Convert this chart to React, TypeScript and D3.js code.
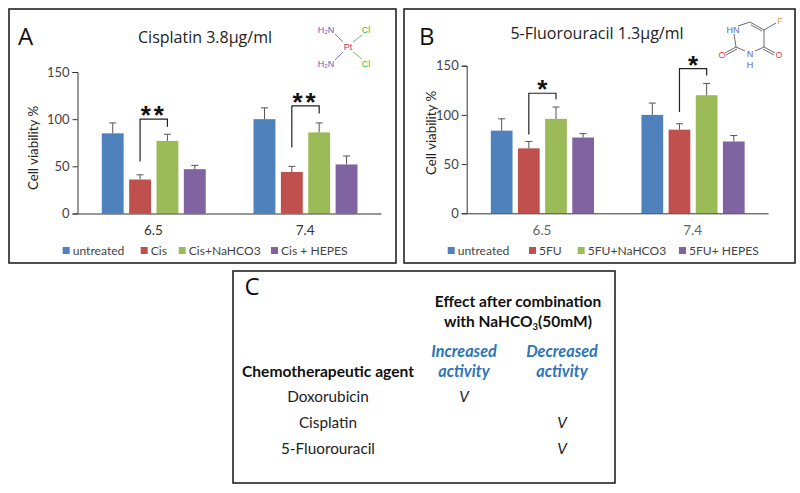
import React, { useEffect, useRef } from "react";
import * as d3 from "d3";

const groups = ["6.5", "7.4"];
const yTicks = [0, 50, 100, 150];
const colors = ["#4f81bd", "#c0504d", "#9bbb59", "#8064a2"];

const seriesA = ["untreated", "Cis", "Cis+NaHCO3", "Cis + HEPES"];
const valuesA = [
  [85, 36, 77, 47],
  [100, 44, 86, 52],
];
const errorTopsA = [
  [96, 41, 84, 51],
  [112, 50, 96, 61],
];

const seriesB = ["untreated", "5FU", "5FU+NaHCO3", "5FU+ HEPES"];
const valuesB = [
  [84, 66, 96, 77],
  [100, 85, 120, 73],
];
const errorTopsB = [
  [96, 73, 108, 81],
  [112, 91, 132, 79],
];

// bracket between bars 2 and 3: left foot, top, right foot (in % units)
const bracketsA = [
  { from: 55, top: 100, to: 92, stars: "**" },
  { from: 70, top: 114, to: 106, stars: "**" },
];
const bracketsB = [
  { from: 80, top: 122, to: 116, stars: "*" },
  { from: 103, top: 147, to: 140, stars: "*" },
];

const agents = ["Doxorubicin", "Cisplatin", "5-Fluorouracil"];
const effects = ["increased", "decreased", "decreased"];

const sansFont = "'Open Sans', sans-serif";
const chartFont = "Lato, sans-serif";
const axisColor = "#333";

function drawPanel(root, o) {
  const g = root.append("g");

  g.append("rect")
    .attr("x", o.box[0])
    .attr("y", o.box[1])
    .attr("width", o.box[2])
    .attr("height", o.box[3])
    .attr("fill", "white")
    .attr("stroke", "#222")
    .attr("stroke-width", 1.6);

  g.append("text")
    .attr("x", o.letterX)
    .attr("y", 45)
    .attr("font-family", sansFont)
    .attr("font-size", 24)
    .attr("fill", "#111")
    .text(o.letter);

  g.append("text")
    .attr("x", o.titleX)
    .attr("y", o.titleY)
    .attr("text-anchor", "middle")
    .attr("font-family", sansFont)
    .attr("font-size", 16)
    .attr("fill", "#222")
    .text(o.title);

  const x0 = d3.scaleBand().domain(groups).range([o.left, o.right]);
  const x1 = d3
    .scaleBand()
    .domain(d3.range(4).map(String))
    .range([x0.bandwidth() * 0.16, x0.bandwidth() * 0.845])
    .paddingInner(0.2);
  const y = d3.scaleLinear().domain([0, 150]).range([o.bottom, o.top]);

  groups.forEach((group, i) => {
    const row = g.append("g").attr("transform", `translate(${x0(group)},0)`);
    o.values[i].forEach((v, j) => {
      const bx = x1(String(j));
      const cx = bx + x1.bandwidth() / 2;
      row
        .append("rect")
        .attr("x", bx)
        .attr("y", y(v))
        .attr("width", x1.bandwidth())
        .attr("height", y(0) - y(v))
        .attr("fill", colors[j]);
      row
        .append("path")
        .attr(
          "d",
          `M${cx},${y(v)}V${y(o.errors[i][j])}M${cx - 3.5},${y(o.errors[i][j])}H${cx + 3.5}`
        )
        .attr("fill", "none")
        .attr("stroke", "#555")
        .attr("stroke-width", 1);
    });

    const b = o.brackets[i];
    const xa = x1("1") + x1.bandwidth() / 2;
    const xb = x1("2") + x1.bandwidth() / 2;
    row
      .append("path")
      .attr("d", `M${xa},${y(b.from)}V${y(b.top)}H${xb}V${y(b.to)}`)
      .attr("fill", "none")
      .attr("stroke", "#222")
      .attr("stroke-width", 1.2);
    row
      .append("text")
      .attr("x", (xa + xb) / 2)
      .attr("y", y(b.top) + 5)
      .attr("text-anchor", "middle")
      .attr("font-family", "'Liberation Sans', sans-serif")
      .attr("font-weight", "bold")
      .attr("font-size", 26)
      .attr("letter-spacing", b.stars.length > 1 ? 3 : 0)
      .attr("fill", "#111")
      .text(b.stars);
  });

  const yAxis = g
    .append("g")
    .attr("transform", `translate(${o.left},0)`)
    .call(d3.axisLeft(y).tickValues(yTicks).tickSize(5).tickPadding(3));
  yAxis.selectAll("path,line").attr("stroke", axisColor);
  yAxis
    .selectAll("text")
    .attr("font-family", chartFont)
    .attr("font-size", 13)
    .attr("fill", "#444");

  const xAxis = g
    .append("g")
    .attr("transform", `translate(0,${o.bottom})`)
    .call(d3.axisBottom(x0).tickSize(0).tickPadding(12));
  xAxis.selectAll("path").attr("stroke", axisColor);
  xAxis
    .selectAll("text")
    .attr("font-family", chartFont)
    .attr("font-size", 13.5)
    .attr("fill", o.xTickColor);

  g.append("text")
    .attr("transform", `translate(${o.yLabelX},${o.yLabelY}) rotate(-90)`)
    .attr("text-anchor", "middle")
    .attr("font-family", chartFont)
    .attr("font-size", 13.3)
    .attr("fill", "#222")
    .text("Cell viability %");

  o.series.forEach((name, j) => {
    g.append("rect")
      .attr("x", o.legendX[j])
      .attr("y", 247)
      .attr("width", 7)
      .attr("height", 7)
      .attr("fill", colors[j]);
    g.append("text")
      .attr("x", o.legendX[j] + 10)
      .attr("y", 255)
      .attr("font-family", chartFont)
      .attr("font-size", 12.1)
      .attr("fill", "#444")
      .text(name);
  });
}

function drawBonds(root, bonds, color) {
  root
    .append("path")
    .attr("d", bonds.map((b) => `M${b[0]},${b[1]}L${b[2]},${b[3]}`).join(""))
    .attr("fill", "none")
    .attr("stroke", color)
    .attr("stroke-width", 0.8);
}

function drawAtoms(root, atoms) {
  atoms.forEach(([label, x, y, color]) => {
    root
      .append("text")
      .attr("x", x)
      .attr("y", y)
      .attr("text-anchor", "middle")
      .attr("font-family", "'Liberation Sans', sans-serif")
      .attr("font-size", 9)
      .attr("fill", color)
      .text(label);
  });
}

function drawMolecules(root) {
  drawBonds(root, [[335, 34, 343, 42], [335, 60, 343, 52]], "#5a5fc0");
  drawBonds(root, [[353, 42, 362, 35], [353, 52, 362, 59]], "#3fbf3f");
  drawAtoms(root, [
    ["H₂N", 326, 33, "#5a5fc0"],
    ["H₂N", 326, 67, "#5a5fc0"],
    ["Cl", 366, 33, "#2fc02f"],
    ["Cl", 366, 67, "#2fc02f"],
    ["Pt", 348, 50, "#c03060"],
  ]);

  drawBonds(
    root,
    [
      [738, 26, 750, 22],
      [750, 22, 764, 30],
      [751, 25, 762, 31],
      [764, 30, 764, 47],
      [764, 47, 755, 51],
      [745, 51, 736, 47],
      [734, 34, 736, 47],
      [764, 30, 776, 23],
      [736, 47, 725, 53],
      [737, 49, 726, 55],
      [764, 47, 775, 53],
      [763, 49, 774, 55],
    ],
    "#444"
  );
  drawAtoms(root, [
    ["HN", 733, 33, "#5a5fc0"],
    ["N", 750, 57, "#5a5fc0"],
    ["H", 750, 67.5, "#5a5fc0"],
    ["O", 722, 58, "#f04040"],
    ["O", 779, 58, "#f04040"],
    ["F", 780, 24, "#d8a040"],
  ]);
}

function drawTable(root) {
  const g = root.append("g").attr("font-family", chartFont).attr("text-anchor", "middle");
  g.append("rect")
    .attr("x", 233)
    .attr("y", 271)
    .attr("width", 382)
    .attr("height", 212)
    .attr("fill", "white")
    .attr("stroke", "#222")
    .attr("stroke-width", 1.6);

  const label = (text, x, y, size = 15.3, weight = "normal", style = "normal", fill = "#222") =>
    g
      .append("text")
      .attr("x", x)
      .attr("y", y)
      .attr("font-size", size)
      .attr("font-weight", weight)
      .attr("font-style", style)
      .attr("fill", fill)
      .text(text);

  g.append("text")
    .attr("x", 252)
    .attr("y", 295)
    .attr("font-family", sansFont)
    .attr("font-size", 24)
    .attr("fill", "#111")
    .text("C");
  label("Effect after combination", 518, 307, 15.5, "bold", "normal", "#111");
  const withLine = label("with NaHCO", 518, 327, 15.5, "bold", "normal", "#111");
  withLine.append("tspan").attr("font-size", 9.5).attr("dy", 3).text("3");
  withLine.append("tspan").attr("dy", -3).text("(50mM)");

  const blue = "#2e75b6";
  const columns = { increased: 464, decreased: 562 };
  label("Increased", columns.increased, 357, 16.2, "bold", "italic", blue);
  label("activity", columns.increased, 377, 16.2, "bold", "italic", blue);
  label("Decreased", columns.decreased, 357, 16.2, "bold", "italic", blue);
  label("activity", columns.decreased, 377, 16.2, "bold", "italic", blue);
  label("Chemotherapeutic agent", 328, 377, 15.6, "bold", "normal", "#111");

  const rowY = d3.scalePoint().domain(agents).range([402, 454]);
  agents.forEach((agent, i) => {
    label(agent, 328, rowY(agent));
    label("V", columns[effects[i]], rowY(agent), 15.3, "normal", "italic");
  });
}

export default function App() {
  const ref = useRef(null);

  useEffect(() => {
    const svg = d3.select(ref.current);
    svg.selectAll("*").remove();

    drawPanel(svg, {
      box: [9, 9, 387, 254],
      letter: "A",
      letterX: 18,
      title: "Cisplatin 3.8µg/ml",
      titleX: 205,
      titleY: 43,
      left: 77.5,
      right: 381,
      top: 72,
      bottom: 213.5,
      values: valuesA,
      errors: errorTopsA,
      brackets: bracketsA,
      series: seriesA,
      legendX: [62.7, 140.7, 178.7, 271],
      xTickColor: "#333",
      yLabelX: 38,
      yLabelY: 148,
    });
    drawPanel(svg, {
      box: [404, 9, 391, 254],
      letter: "B",
      letterX: 419,
      title: "5-Fluorouracil 1.3µg/ml",
      titleX: 597,
      titleY: 39,
      left: 466.7,
      right: 768,
      top: 65.7,
      bottom: 213.3,
      values: valuesB,
      errors: errorTopsB,
      brackets: bracketsB,
      series: seriesB,
      legendX: [447.7, 529, 577.7, 679],
      xTickColor: "#666",
      yLabelX: 436,
      yLabelY: 133,
    });
    drawMolecules(svg);
    drawTable(svg);
  }, []);

  return (
    <svg
      ref={ref}
      width={800}
      height={493}
      style={{ position: "absolute", left: 0, top: 0, background: "white" }}
    />
  );
}
